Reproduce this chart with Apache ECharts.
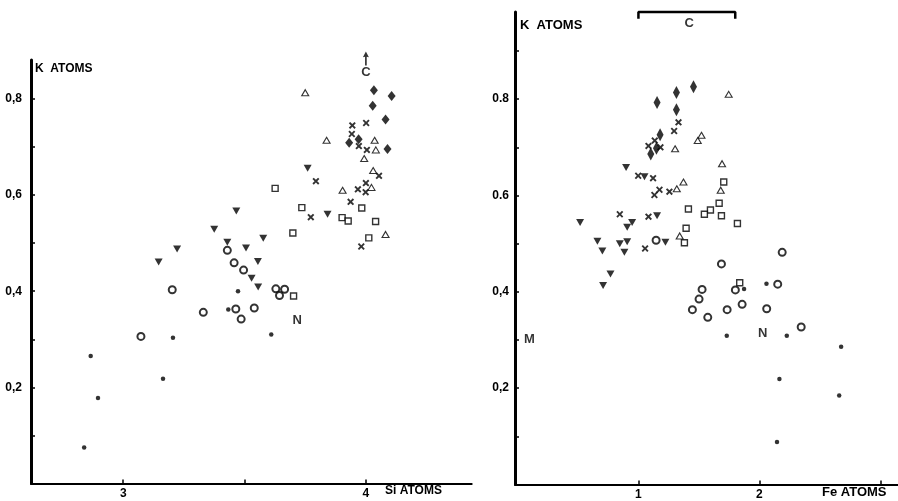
<!DOCTYPE html>
<html>
<head>
<meta charset="utf-8">
<script src="https://cdn.jsdelivr.net/npm/echarts@6/dist/echarts.min.js"></script>
<style>html,body{margin:0;padding:0;background:#fff;}#c{width:898px;height:501px;}</style>
</head>
<body>
<div id="c"></div>
<script>
// ---------- LEFT PANEL: K atoms vs Si atoms ----------
const leftDiamonds = [[4.033,0.818],[4.106,0.806],[4.028,0.786],[4.081,0.757],[3.970,0.716],[3.931,0.709],[4.089,0.696]];
const leftCrosses = [[3.944,0.745],[4.001,0.750],[3.942,0.727],[3.971,0.702],[4.004,0.694],[4.054,0.640],[3.794,0.629],[4.000,0.625],[3.967,0.612],[3.999,0.606],[3.937,0.586],[3.773,0.554],[3.981,0.493]];
const leftOpenTriangles = [[3.750,0.813],[3.838,0.714],[4.036,0.714],[4.041,0.694],[3.993,0.676],[4.030,0.651],[4.023,0.616],[3.904,0.610],[4.081,0.518]];
const leftSquares = [[3.626,0.614],[3.736,0.574],[3.983,0.573],[3.902,0.553],[3.927,0.546],[4.040,0.545],[3.699,0.521],[4.012,0.511],[3.702,0.390]];
const leftDownTriangles = [[3.760,0.656],[3.842,0.560],[3.466,0.567],[3.375,0.529],[3.429,0.502],[3.577,0.510],[3.222,0.488],[3.506,0.490],[3.146,0.461],[3.555,0.462],[3.529,0.427],[3.556,0.409]];
const leftCircles = [[3.429,0.485],[3.457,0.459],[3.496,0.444],[3.202,0.403],[3.629,0.405],[3.665,0.404],[3.644,0.391],[3.330,0.356],[3.464,0.363],[3.540,0.365],[3.486,0.342],[3.073,0.306]];
const leftDots = [[3.473,0.400],[3.433,0.362],[3.610,0.310],[3.205,0.303],[2.866,0.265],[3.164,0.218],[2.896,0.178],[2.839,0.075]];
const leftNotes = [{name:'C', value:[4.0,0.855]},{name:'N', value:[3.717,0.339]}];
const leftArrow = [[4.0,0.884]];

const leftXTicks = [3, 3.5, 4];
const leftXLabelValues = [3, 4];
const leftXLabels = ['3', '4'];
const leftYTicks = [0.1,0.2,0.3,0.4,0.5,0.6,0.7,0.8];
const leftYLabelValues = [0.2,0.4,0.6,0.8];
const leftYLabels = ['0,2','0,4','0,6','0,8'];

// ---------- RIGHT PANEL: K atoms vs Fe atoms ----------
const rightDiamonds = [[1.455,0.826],[1.314,0.814],[1.154,0.793],[1.314,0.778],[1.179,0.726],[1.149,0.698],[1.102,0.686]];
const rightCrosses = [[1.331,0.752],[1.295,0.734],[1.135,0.714],[1.083,0.703],[1.182,0.700],[0.998,0.641],[1.121,0.636],[1.174,0.612],[1.132,0.601],[1.256,0.608],[0.846,0.561],[1.083,0.556],[1.055,0.490]];
const rightOpenTriangles = [[1.746,0.810],[1.521,0.725],[1.490,0.714],[1.303,0.697],[1.691,0.666],[1.372,0.628],[1.317,0.614],[1.680,0.611],[1.341,0.516]];
const rightSquares = [[1.705,0.628],[1.667,0.584],[1.413,0.572],[1.595,0.570],[1.545,0.561],[1.686,0.558],[1.818,0.542],[1.394,0.532],[1.380,0.502],[1.837,0.419]];
const rightDownTriangles = [[0.898,0.658],[1.050,0.639],[1.154,0.558],[0.518,0.544],[0.948,0.544],[0.907,0.534],[0.661,0.505],[0.846,0.500],[0.907,0.504],[1.223,0.503],[0.702,0.485],[0.884,0.482],[0.769,0.437],[0.708,0.413]];
const rightCircles = [[1.146,0.507],[2.188,0.482],[1.686,0.458],[1.526,0.405],[1.501,0.385],[1.446,0.363],[1.573,0.347],[1.801,0.404],[1.733,0.363],[1.857,0.374],[2.151,0.416],[2.060,0.365],[2.345,0.327]];
const rightDots = [[1.873,0.406],[2.058,0.417],[1.730,0.309],[2.226,0.309],[2.675,0.286],[2.165,0.219],[2.659,0.185],[2.145,0.088]];
const rightNotes = [{name:'C', value:[1.42,0.958]},{name:'N', value:[2.026,0.313]},{name:'M', value:[0.10,0.302]}];
const rightBracket = [[1.0,0.967],[1.0,0.981],[1.8,0.981],[1.8,0.967]];

const rightXTicks = [1, 2, 3];
const rightXLabelValues = [1, 2];
const rightXLabels = ['1', '2'];
const rightYTicks = [0.1,0.2,0.3,0.4,0.5,0.6,0.7,0.8,0.9];
const rightYLabelValues = [0.2,0.4,0.6,0.8];
const rightYLabels = ['0,2','0,4','0.6','0.8'];

// ---------- styling helpers ----------
const FONT = 'Liberation Sans';
const BLACK = '#000';
const crossPath = 'path://M0,1.9 L1.9,0 L5,3.1 L8.1,0 L10,1.9 L6.9,5 L10,8.1 L8.1,10 L5,6.9 L1.9,10 L0,8.1 L3.1,5 Z';
const downTriPath = 'path://M0,0 L10,0 L5,9 Z';
const arrowPath = 'path://M5,0 L10,9 L6.4,8 L6.4,22 L3.6,22 L3.6,8 L0,9 Z';

function pick(values, labels) {
  return function (v) {
    const i = values.findIndex(t => Math.abs(t - v) < 1e-6);
    return i >= 0 ? labels[i] : '';
  };
}

function xAxisCfg(grid, min, max, ticks, labVals, labs) {
  return {
    type: 'value', gridIndex: grid, min: min, max: max,
    axisLine: { show: true, onZero: false, lineStyle: { color: BLACK, width: 2 } },
    axisTick: { show: true, inside: true, length: 4, customValues: ticks, lineStyle: { color: BLACK, width: 1.5 } },
    axisLabel: { customValues: labVals, formatter: pick(labVals, labs), color: BLACK, fontFamily: FONT, fontWeight: 'bold', fontSize: 12, margin: 4 },
    splitLine: { show: false }
  };
}
function yAxisCfg(grid, min, max, ticks, labVals, labs, margin) {
  return {
    type: 'value', gridIndex: grid, min: min, max: max,
    axisLine: { show: true, onZero: false, lineStyle: { color: BLACK, width: 3 } },
    axisTick: { show: true, inside: true, length: 4, customValues: ticks, lineStyle: { color: BLACK, width: 1.5 } },
    axisLabel: { customValues: labVals, formatter: pick(labVals, labs), color: BLACK, fontFamily: FONT, fontWeight: 'bold', fontSize: 12, margin: margin },
    splitLine: { show: false }
  };
}

function markers(idx, data, kind) {
  const base = { type: 'scatter', xAxisIndex: idx, yAxisIndex: idx, data: data, silent: true, clip: false };
  const solid = { color: BLACK, borderWidth: 0 };
  const open = (w) => ({ color: '#fff', borderColor: BLACK, borderWidth: w });
  switch (kind) {
    case 'diamondL': return Object.assign(base, { symbol: 'diamond', symbolSize: [8, 10], itemStyle: solid });
    case 'diamondR': return Object.assign(base, { symbol: 'diamond', symbolSize: [7, 13], itemStyle: solid });
    case 'cross': return Object.assign(base, { symbol: crossPath, symbolSize: 7, itemStyle: solid });
    case 'openTri': return Object.assign(base, { symbol: 'triangle', symbolSize: [7, 6], itemStyle: open(1.1) });
    case 'square': return Object.assign(base, { symbol: 'rect', symbolSize: 6, itemStyle: open(1.4) });
    case 'downTri': return Object.assign(base, { symbol: downTriPath, symbolSize: [8, 7], itemStyle: solid });
    case 'circle': return Object.assign(base, { symbol: 'circle', symbolSize: 7, itemStyle: open(2) });
    case 'dot': return Object.assign(base, { symbol: 'circle', symbolSize: 4.5, itemStyle: solid });
  }
}
function notes(idx, data, size) {
  return {
    type: 'scatter', xAxisIndex: idx, yAxisIndex: idx, data: data, symbolSize: 0, silent: true, clip: false,
    label: { show: true, position: 'inside', formatter: '{b}', color: BLACK, fontFamily: FONT, fontWeight: 'bold', fontSize: size }
  };
}

const chart = echarts.init(document.getElementById('c'), null, { renderer: 'canvas' });
chart.setOption({
  animation: false,
  backgroundColor: '#fff',
  grid: [
    { left: 31, top: 60, width: 440.7, height: 423.5 },
    { left: 515, top: 12, width: 383, height: 472.5 }
  ],
  xAxis: [
    xAxisCfg(0, 2.62, 4.436, leftXTicks, leftXLabelValues, leftXLabels),
    xAxisCfg(1, -0.02, 3.145, rightXTicks, rightXLabelValues, rightXLabels)
  ],
  yAxis: [
    yAxisCfg(0, 0, 0.881, leftYTicks, leftYLabelValues, leftYLabels, 9),
    yAxisCfg(1, 0, 0.981, rightYTicks, rightYLabelValues, rightYLabels, 6)
  ],
  graphic: [
    { type: 'text', left: 35, top: 63, style: { text: 'K  ATOMS', font: 'bold 12px "Liberation Sans"', fill: BLACK } },
    { type: 'text', left: 520, top: 19, style: { text: 'K  ATOMS', font: 'bold 13px "Liberation Sans"', fill: BLACK } },
    { type: 'text', left: 385, top: 485, style: { text: 'Si ATOMS', font: 'bold 12px "Liberation Sans"', fill: BLACK } },
    { type: 'text', left: 822, top: 486, style: { text: 'Fe ATOMS', font: 'bold 13px "Liberation Sans"', fill: BLACK } }
  ],
  series: [
    markers(0, leftDiamonds, 'diamondL'),
    markers(0, leftCrosses, 'cross'),
    markers(0, leftOpenTriangles, 'openTri'),
    markers(0, leftSquares, 'square'),
    markers(0, leftDownTriangles, 'downTri'),
    markers(0, leftCircles, 'circle'),
    markers(0, leftDots, 'dot'),
    notes(0, leftNotes, 13),
    { type: 'scatter', xAxisIndex: 0, yAxisIndex: 0, data: leftArrow, symbol: arrowPath, symbolSize: [6, 14], clip: false, silent: true, itemStyle: { color: BLACK } },
    markers(1, rightDiamonds, 'diamondR'),
    markers(1, rightCrosses, 'cross'),
    markers(1, rightOpenTriangles, 'openTri'),
    markers(1, rightSquares, 'square'),
    markers(1, rightDownTriangles, 'downTri'),
    markers(1, rightCircles, 'circle'),
    markers(1, rightDots, 'dot'),
    notes(1, rightNotes, 13),
    { type: 'line', xAxisIndex: 1, yAxisIndex: 1, data: rightBracket, symbol: 'none', clip: false, silent: true, lineStyle: { color: BLACK, width: 2.5 } }
  ]
});
</script>
</body>
</html>
